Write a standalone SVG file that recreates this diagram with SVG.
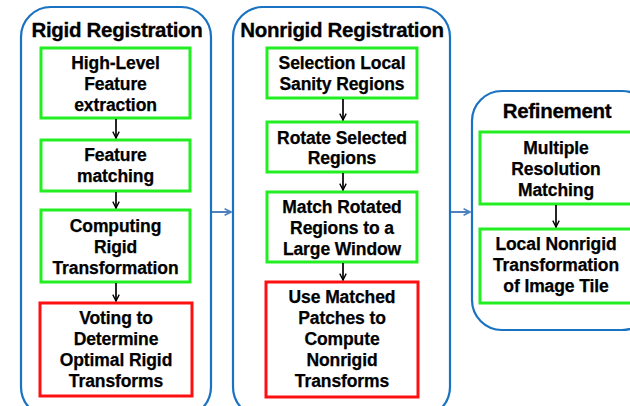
<svg xmlns="http://www.w3.org/2000/svg" width="630" height="406" viewBox="0 0 630 406">
  <style>
    .stage { fill: #ffffff; stroke: #1a72c2; stroke-width: 2.2; }
    .step { fill: #ffffff; stroke: #22ee22; stroke-width: 3; }
    .final { fill: #ffffff; stroke: #ff1010; stroke-width: 3; }
    .title { font-family: "Liberation Sans", Arial, sans-serif; font-weight: bold; font-size: 20.5px; fill: #000; stroke: #000; stroke-width: 0.3; text-anchor: middle; letter-spacing: -0.3px; }
    .label { font-family: "Liberation Sans", Arial, sans-serif; font-weight: bold; font-size: 17.5px; fill: #000; stroke: #000; stroke-width: 0.25; text-anchor: middle; letter-spacing: -0.1px; }
    .flow { stroke: #000; stroke-width: 1.7; fill: none; marker-end: url(#head); }
    .link { stroke: #4f81bd; stroke-width: 2; fill: none; marker-end: url(#headBlue); }
  </style>
  <defs>
    <marker id="head" viewBox="0 0 10 10" refX="9" refY="5" markerWidth="8" markerHeight="8" markerUnits="userSpaceOnUse" orient="auto">
      <path d="M1,1 L9,5 L1,9" fill="none" stroke="#000" stroke-width="1.7"/>
    </marker>
    <marker id="headBlue" viewBox="0 0 10 10" refX="9" refY="5" markerWidth="8" markerHeight="8" markerUnits="userSpaceOnUse" orient="auto">
      <path d="M1,1 L9,5 L1,9" fill="none" stroke="#4f81bd" stroke-width="2"/>
    </marker>
  </defs>

  <rect width="630" height="406" fill="#ffffff"/>

  <!-- Stage 1: rigid registration -->
  <g id="rigid">
    <rect class="stage" x="21" y="7" width="190" height="410" rx="30" ry="30"/>
    <text class="title" x="117" y="37">Rigid Registration</text>
  </g>
  <g id="feature-extraction">
    <rect class="step" x="41" y="48" width="149" height="70"/>
    <text class="label" x="115.5" y="69">High-Level</text>
    <text class="label" x="115.5" y="90">Feature</text>
    <text class="label" x="115.5" y="111">extraction</text>
  </g>
  <g id="feature-matching">
    <rect class="step" x="41" y="140" width="149" height="51"/>
    <text class="label" x="115.5" y="161">Feature</text>
    <text class="label" x="115.5" y="182">matching</text>
  </g>
  <g id="rigid-transformation">
    <rect class="step" x="41" y="210" width="149" height="72"/>
    <text class="label" x="115.5" y="232">Computing</text>
    <text class="label" x="115.5" y="253">Rigid</text>
    <text class="label" x="115.5" y="274">Transformation</text>
  </g>
  <g id="voting">
    <rect class="final" x="40" y="303" width="152" height="93"/>
    <text class="label" x="116" y="324">Voting to</text>
    <text class="label" x="116" y="345">Determine</text>
    <text class="label" x="116" y="366">Optimal Rigid</text>
    <text class="label" x="116" y="387">Transforms</text>
  </g>

  <!-- Stage 2: nonrigid registration -->
  <g id="nonrigid">
    <rect class="stage" x="233" y="7" width="217" height="410" rx="30" ry="30"/>
    <text class="title" x="342" y="37">Nonrigid Registration</text>
  </g>
  <g id="select-regions">
    <rect class="step" x="267" y="48" width="150" height="50"/>
    <text class="label" x="342" y="69">Selection Local</text>
    <text class="label" x="342" y="90">Sanity Regions</text>
  </g>
  <g id="rotate-regions">
    <rect class="step" x="267" y="122" width="150" height="50"/>
    <text class="label" x="342" y="144">Rotate Selected</text>
    <text class="label" x="342" y="164">Regions</text>
  </g>
  <g id="match-window">
    <rect class="step" x="267" y="192" width="150" height="70"/>
    <text class="label" x="342" y="213">Match Rotated</text>
    <text class="label" x="342" y="234">Regions to a</text>
    <text class="label" x="342" y="255">Large Window</text>
  </g>
  <g id="nonrigid-transforms">
    <rect class="final" x="266" y="282" width="152" height="115"/>
    <text class="label" x="342" y="303">Use Matched</text>
    <text class="label" x="342" y="324">Patches to</text>
    <text class="label" x="342" y="345">Compute</text>
    <text class="label" x="342" y="366">Nonrigid</text>
    <text class="label" x="342" y="387">Transforms</text>
  </g>

  <!-- Stage 3: refinement -->
  <g id="refinement">
    <rect class="stage" x="472" y="91" width="180" height="239" rx="30" ry="30"/>
    <text class="title" x="557" y="118">Refinement</text>
  </g>
  <g id="multi-resolution">
    <rect class="step" x="480" y="132" width="152" height="72"/>
    <text class="label" x="556" y="154">Multiple</text>
    <text class="label" x="556" y="175">Resolution</text>
    <text class="label" x="556" y="196">Matching</text>
  </g>
  <g id="local-nonrigid">
    <rect class="step" x="480" y="229" width="152" height="74"/>
    <text class="label" x="556" y="250">Local Nonrigid</text>
    <text class="label" x="556" y="271">Transformation</text>
    <text class="label" x="556" y="292">of Image Tile</text>
  </g>

  <!-- Connectors -->
  <g id="connectors">
    <line class="flow" x1="116" y1="119" x2="116" y2="138"/>
    <line class="flow" x1="116" y1="192" x2="116" y2="208"/>
    <line class="flow" x1="116" y1="283" x2="116" y2="301"/>
    <line class="flow" x1="343" y1="99" x2="343" y2="120"/>
    <line class="flow" x1="343" y1="173" x2="343" y2="190"/>
    <line class="flow" x1="343" y1="263" x2="343" y2="280"/>
    <line class="flow" x1="556" y1="205" x2="556" y2="227"/>
    <line class="link" x1="212" y1="212" x2="231" y2="212"/>
    <line class="link" x1="451" y1="212" x2="470" y2="212"/>
  </g>
</svg>
